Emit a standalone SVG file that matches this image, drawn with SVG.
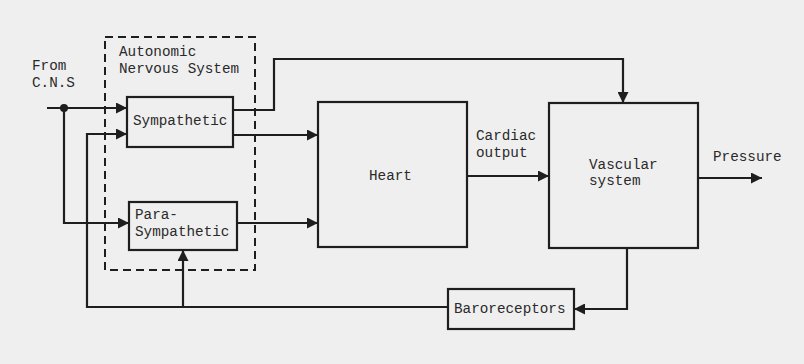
<svg xmlns="http://www.w3.org/2000/svg" width="804" height="364" viewBox="0 0 804 364">
<style>
.box{fill:none;stroke:#1e1e1e;stroke-width:2.2}
.ln{fill:none;stroke:#1e1e1e;stroke-width:2.2}
.dash{fill:none;stroke:#1e1e1e;stroke-width:2;stroke-dasharray:8,5}
text{font-family:"Liberation Mono","DejaVu Sans Mono",monospace;font-size:14.3px;fill:#2a2a2a}
</style>
<defs>
<marker id="ah" viewBox="0 0 10 10" refX="10" refY="5" markerWidth="5" markerHeight="5" orient="auto" markerUnits="strokeWidth">
<path d="M0,0 L10,5 L0,10 z" fill="#1e1e1e"/>
</marker>
</defs>
<rect width="804" height="364" fill="#efefef"/>
<g id="ans">
<rect class="dash" x="105" y="37" width="150" height="233"/>
<text x="119" y="56">Autonomic</text>
<text x="119" y="73">Nervous System</text>
</g>
<g id="cns">
<text x="32" y="70">From</text>
<text x="32" y="87">C.N.S</text>
</g>
<g id="sympathetic">
<rect class="box" x="127" y="97" width="106" height="50"/>
<text x="133" y="125">Sympathetic</text>
</g>
<g id="parasympathetic">
<rect class="box" x="129" y="202" width="108" height="48"/>
<text x="135" y="219">Para-</text>
<text x="135" y="236">Sympathetic</text>
</g>
<g id="heart">
<rect class="box" x="318" y="102" width="149" height="145"/>
<text x="369" y="180">Heart</text>
</g>
<g id="vascular">
<rect class="box" x="549" y="103" width="149" height="145"/>
<text x="589" y="169">Vascular</text>
<text x="589" y="185">system</text>
</g>
<g id="baroreceptors">
<rect class="box" x="448" y="289" width="126" height="40"/>
<text x="454" y="313">Baroreceptors</text>
</g>
<g id="connectors">
<path class="ln" d="M47,108 H127" marker-end="url(#ah)"/>
<circle cx="64" cy="108" r="4" fill="#1e1e1e"/>
<path class="ln" d="M64,108 V223 H129" marker-end="url(#ah)"/>
<path class="ln" d="M448,307 H87 V134 H127" marker-end="url(#ah)"/>
<path class="ln" d="M183,307 V250" marker-end="url(#ah)"/>
<path class="ln" d="M233,110 H274 V59 H623 V103" marker-end="url(#ah)"/>
<path class="ln" d="M233,135 H318" marker-end="url(#ah)"/>
<path class="ln" d="M237,223 H318" marker-end="url(#ah)"/>
<path class="ln" d="M467,176 H549" marker-end="url(#ah)"/>
<text x="476" y="140">Cardiac</text>
<text x="476" y="157">output</text>
<path class="ln" d="M698,178 H762" marker-end="url(#ah)"/>
<text x="713" y="161">Pressure</text>
<path class="ln" d="M627,248 V309 H574" marker-end="url(#ah)"/>
</g>
</svg>
